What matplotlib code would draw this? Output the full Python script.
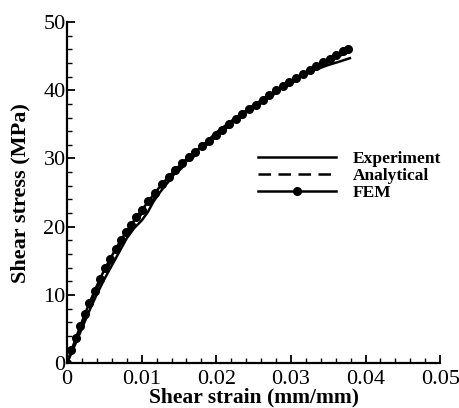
import matplotlib
matplotlib.use("Agg")
import matplotlib.pyplot as plt
import matplotlib.ticker as tck

plt.rcParams['font.family'] = ['Liberation Serif', 'DejaVu Serif']

# experiment curve
exp_strain = [0, 0.001, 0.002, 0.003, 0.004, 0.005, 0.006, 0.007, 0.008, 0.009,
              0.0100, 0.0108, 0.0116, 0.0125, 0.0135, 0.015, 0.0175, 0.020,
              0.0225, 0.025, 0.0275, 0.030, 0.0325, 0.035, 0.0365, 0.0379]
exp_stress = [0, 2.5, 5.1, 7.7, 10.1, 12.3, 14.3, 16.3, 18.3, 19.8,
              20.9, 22.1, 23.7, 25.1, 26.6, 28.5, 31.2, 33.8,
              35.9, 37.8, 39.6, 41.2, 42.7, 43.7, 44.2, 44.7]

# analytical curve
ana_strain = [0, 0.001, 0.002, 0.003, 0.004, 0.005, 0.006, 0.007, 0.008, 0.009,
              0.010, 0.012, 0.014, 0.016, 0.018, 0.020, 0.022, 0.024, 0.026,
              0.028, 0.030, 0.032, 0.034, 0.036, 0.0375]
ana_stress = [0, 2.9, 5.7, 8.4, 10.9, 13.1, 15.1, 17.0, 18.8, 20.4,
              21.9, 24.6, 27.1, 29.3, 31.3, 33.2, 35.0, 36.6, 38.1,
              39.6, 41.0, 42.3, 43.5, 44.7, 45.6]

# FEM points (markers)
fem_strain = [0, 0.0006, 0.0012, 0.0018, 0.0024, 0.0030, 0.0037, 0.0044, 0.0051,
              0.0058, 0.0065, 0.0072, 0.0079, 0.0086, 0.0093, 0.0100, 0.0109,
              0.0118, 0.0127, 0.0136, 0.0145, 0.0154, 0.0163, 0.0172, 0.0181,
              0.0190, 0.0199, 0.0208, 0.0217, 0.0226, 0.0235, 0.0244, 0.0253,
              0.0262, 0.0271, 0.0280, 0.0289, 0.0298, 0.0307, 0.0316, 0.0325,
              0.0334, 0.0343, 0.0352, 0.0361, 0.0370, 0.0377]
fem_stress = [0, 1.9, 3.7, 5.5, 7.2, 8.8, 10.6, 12.3, 13.9,
              15.3, 16.7, 18.0, 19.2, 20.3, 21.4, 22.4, 23.7,
              25.0, 26.2, 27.3, 28.3, 29.3, 30.2, 31.0, 31.8,
              32.6, 33.4, 34.2, 35.0, 35.8, 36.5, 37.2, 37.9,
              38.6, 39.3, 40.0, 40.6, 41.2, 41.8, 42.4, 43.0,
              43.5, 44.1, 44.6, 45.2, 45.7, 46.1]

xticks = [0, 0.01, 0.02, 0.03, 0.04, 0.05]
xticklabels = ['0', '0.01', '0.02', '0.03', '0.04', '0.05']
yticks = [0, 10, 20, 30, 40, 50]

fig = plt.figure(figsize=(4.59, 4.08), dpi=100)
ax = fig.add_axes([0.146, 0.110, 0.813, 0.836])

ax.plot(exp_strain, exp_stress, '-', color='k', lw=1.8, label='Experiment')
ax.plot(ana_strain, ana_stress, '--', color='k', lw=1.8, dashes=(5, 3), label='Analytical')
ax.plot(fem_strain, fem_stress, '-', color='k', lw=1.8, marker='o', ms=5.5, label='FEM')

ax.set_xlim(0, 0.05)
ax.set_ylim(0, 50)
ax.set_xticks(xticks)
ax.set_xticklabels(xticklabels)
ax.set_yticks(yticks)
ax.xaxis.set_minor_locator(tck.AutoMinorLocator(5))
ax.yaxis.set_minor_locator(tck.AutoMinorLocator(5))
ax.tick_params(which='major', direction='in', length=6, width=1.3, labelsize=16)
ax.tick_params(axis='x', which='major', pad=5)
ax.tick_params(axis='y', which='major', pad=1)
ax.tick_params(which='minor', direction='in', length=3.5, width=1.0)

ax.spines['top'].set_visible(False)
ax.spines['right'].set_visible(False)
ax.spines['left'].set_linewidth(1.6)
ax.spines['bottom'].set_linewidth(1.6)

ax.set_xlabel('Shear strain (mm/mm)', fontsize=15.5, fontweight='bold', labelpad=-1)
ax.set_ylabel('Shear stress (MPa)', fontsize=16, fontweight='bold', labelpad=9)

ax.legend(loc='upper left', bbox_to_anchor=(0.562, 0.63), bbox_transform=fig.transFigure,
          frameon=False, borderpad=0, borderaxespad=0, labelspacing=0.05,
          handlelength=4.5, handletextpad=0.95,
          prop={'size': 12.5, 'weight': 'bold'})

fig.savefig('out.png', dpi=100)
